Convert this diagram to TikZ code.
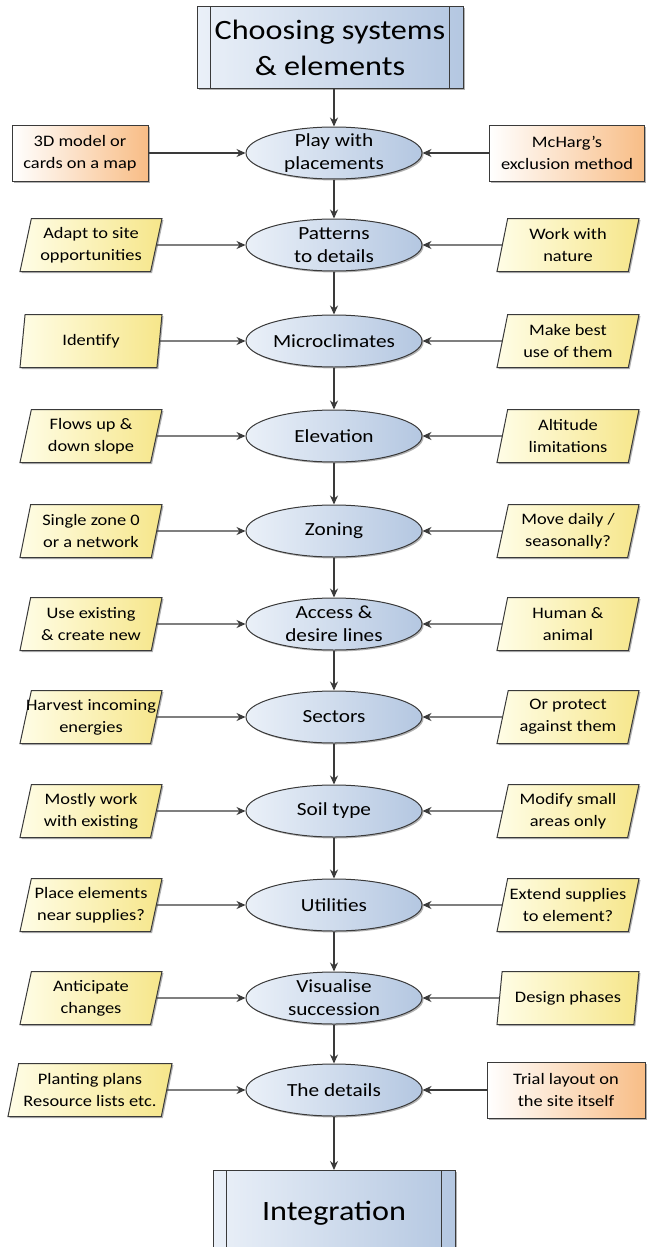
\documentclass[tikz,border=0pt]{standalone}
\usepackage{fontspec}
\setmainfont[FakeStretch=1.15]{Carlito}
\usetikzlibrary{shapes.geometric,arrows.meta,shadows,calc}
\definecolor{bl1}{HTML}{EAF0F8}
\definecolor{bl2}{HTML}{B4C7E1}
\definecolor{ye1}{HTML}{FFFDE6}
\definecolor{ye2}{HTML}{F6E68A}
\definecolor{or1}{HTML}{FFFFFF}
\definecolor{or2}{HTML}{F8BD86}
\definecolor{edge}{HTML}{3A3A3A}
\tikzset{
  shad/.style={drop shadow={shadow xshift=1.5pt,shadow yshift=-1.5pt,opacity=0.3,fill=black}},
  mainbox/.style={rectangle,draw=edge,line width=1pt,left color=bl1,right color=bl2,shad,
     font=\fontsize{28}{36}\selectfont,align=center,inner sep=0pt},
  ell/.style={ellipse,draw=edge,line width=1pt,left color=bl1,right color=bl2,shad,
     minimum width=176pt,minimum height=52pt,inner xsep=0pt,inner ysep=-6pt,
     font=\fontsize{18.5}{23}\selectfont,align=center},
  para/.style={trapezium,trapezium left angle=74,trapezium right angle=106,trapezium stretches body,
     draw=edge,line width=1pt,left color=ye1,right color=ye2,shad,
     minimum width=142pt,minimum height=53pt,inner xsep=-6pt,inner ysep=2pt,
     font=\fontsize{16}{22}\selectfont,align=center},
  obox/.style={rectangle,draw=edge,line width=1pt,left color=or1,right color=or2,shad,
     minimum height=56pt,inner sep=2pt,
     font=\fontsize{16}{22}\selectfont,align=center},
  arr/.style={draw=edge,line width=1.2pt,-{Stealth[length=9pt,width=8pt]}},
}
\begin{document}
\begin{tikzpicture}[x=1pt,y=-1pt]
\useasboundingbox (0,0) rectangle (649,1247);
% top box
\node[mainbox,minimum width=266pt,minimum height=81pt] (top) at (330,47.5) {Choosing systems\\\& elements};
\draw[edge,line width=1pt] ($(top.north west)+(14,0)$) -- ($(top.south west)+(14,0)$);
\draw[edge,line width=1pt] ($(top.north east)+(-14,0)$) -- ($(top.south east)+(-14,0)$);
% ellipses
\node[ell] (e1) at (334,153) {Play with\\placements};
\node[ell] (e2) at (334,245) {Patterns\\to details};
\node[ell] (e3) at (334,341) {Microclimates};
\node[ell] (e4) at (334,436) {Elevation};
\node[ell] (e5) at (334,531) {Zoning};
\node[ell] (e6) at (334,624) {Access \&\\desire lines};
\node[ell] (e7) at (334,717) {Sectors};
\node[ell] (e8) at (334,811) {Soil type};
\node[ell] (e9) at (334,905) {Utilities};
\node[ell] (e10) at (334,998) {Visualise\\succession};
\node[ell] (e11) at (334,1090) {The details};
% left
\node[obox,minimum width=136pt] (l1) at (80,153) {3D model or\\cards on a map};
\node[para] (l2) at (91,245) {Adapt to site\\opportunities};
\node[para] (l3) at (91,341) {Identify};
\node[para] (l4) at (91,436) {Flows up \&\\down slope};
\node[para] (l5) at (91,531) {Single zone 0\\or a network};
\node[para] (l6) at (91,624) {Use existing\\\& create new};
\node[para] (l7) at (91,717) {Harvest incoming\\energies};
\node[para] (l8) at (91,811) {Mostly work\\with existing};
\node[para] (l9) at (91,905) {Place elements\\near supplies?};
\node[para] (l10) at (91,998) {Anticipate\\changes};
\node[para,minimum width=164pt] (l11) at (90,1090) {Planting plans\\Resource lists etc.};
% right
\node[obox,minimum width=155pt] (r1) at (567,153) {McHarg’s\\exclusion method};
\node[para] (r2) at (568,245) {Work with\\nature};
\node[para] (r3) at (568,341) {Make best\\use of them};
\node[para] (r4) at (568,436) {Altitude\\limitations};
\node[para] (r5) at (568,531) {Move daily /\\seasonally?};
\node[para] (r6) at (568,624) {Human \&\\animal};
\node[para] (r7) at (568,717) {Or protect\\against them};
\node[para] (r8) at (568,811) {Modify small\\areas only};
\node[para] (r9) at (568,905) {Extend supplies\\to element?};
\node[para] (r10) at (568,998) {Design phases};
\node[obox,minimum width=158pt] (r11) at (566,1090) {Trial layout on\\the site itself};
% bottom box
\node[mainbox,minimum width=242pt,minimum height=86pt,anchor=north] (bot) at (334,1170) {Integration};
\draw[edge,line width=1pt] ($(bot.north west)+(14,0)$) -- ($(bot.south west)+(14,0)$);
\draw[edge,line width=1pt] ($(bot.north east)+(-14,0)$) -- ($(bot.south east)+(-14,0)$);
% arrows
\draw[arr] (top.south -| e1.north) -- (e1.north);
\foreach \i/\j in {1/2,2/3,3/4,4/5,5/6,6/7,7/8,8/9,9/10,10/11}{
  \draw[arr] (e\i.south) -- (e\j.north);
}
\draw[arr] (e11.south) -- (e11.south |- bot.north);
\foreach \i in {1,...,11}{
  \draw[arr] (l\i.east) -- (e\i.west);
  \draw[arr] (r\i.west) -- (e\i.east);
}
\end{tikzpicture}
\end{document}
